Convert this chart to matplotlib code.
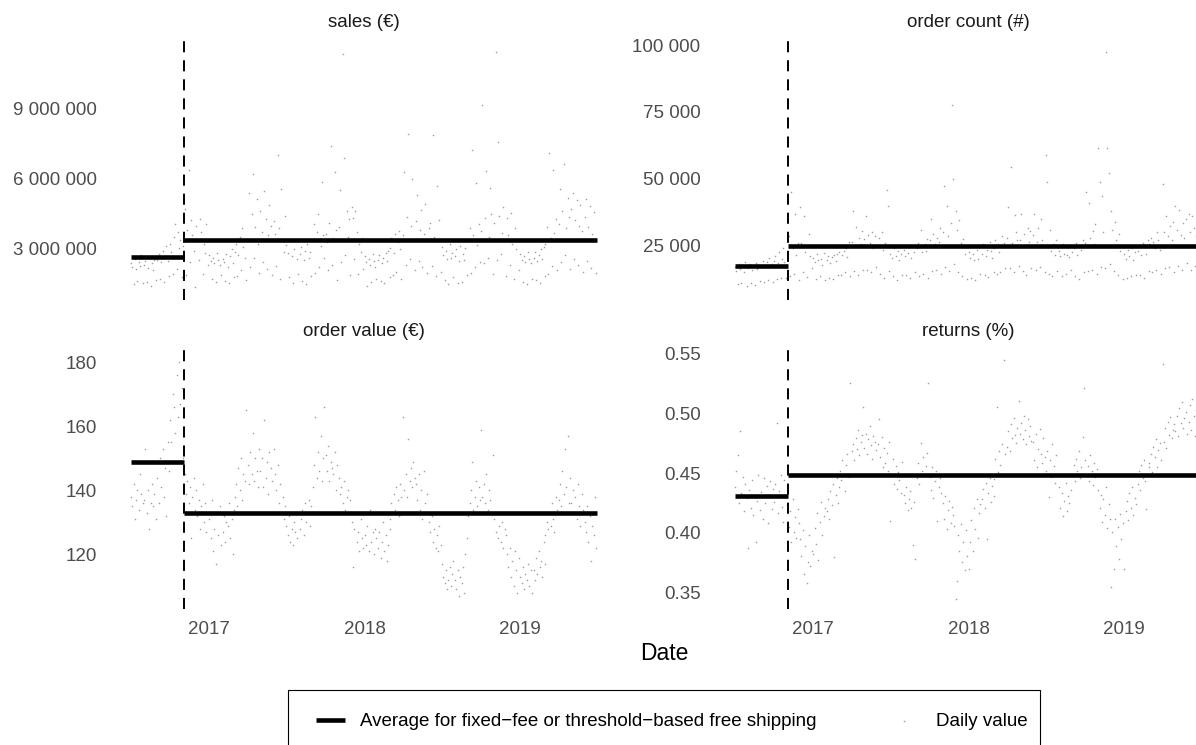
import numpy as np
import pandas as pd
import matplotlib
matplotlib.use("agg")
import matplotlib.pyplot as plt
import matplotlib.dates as mdates
from matplotlib.lines import Line2D
from matplotlib.patches import Rectangle

plt.rcParams["font.family"] = ["Liberation Sans", "DejaVu Sans"]

# one row per month (Jul 2016 .. Jun 2019), values on days 1, 4, ..., 28
sales_m = [
    2.35, 2.20, 1.45, 2.55, 2.10, 1.60, 2.40, 2.25, 2.70, 1.50,
    2.30, 2.45, 1.55, 2.15, 2.60, 1.40, 2.35, 2.05, 2.50, 1.65,
    2.50, 2.75, 1.70, 2.40, 2.90, 1.55, 2.65, 3.10, 2.45, 1.80,
    3.20, 2.85, 1.90, 3.50, 4.05, 2.10, 3.70, 3.00, 3.35, 1.75,
    3.10, 4.70, 1.85, 3.80, 6.35, 2.40, 4.20, 3.55, 2.90, 1.35,
    3.95, 3.40, 2.50, 4.25, 3.70, 1.90, 3.20, 2.80, 4.05, 2.30,
    2.70, 2.45, 1.70, 2.60, 2.35, 1.55, 2.80, 2.50, 2.30, 1.85,
    2.55, 2.40, 1.60, 2.75, 2.20, 1.50, 2.65, 2.95, 2.35, 1.75,
    2.85, 3.20, 1.80, 2.70, 3.50, 2.05, 3.85, 3.05, 2.60, 1.65,
    3.40, 5.35, 2.20, 4.45, 6.20, 2.60, 3.90, 5.10, 3.20, 1.95,
    4.60, 3.70, 2.40, 5.45, 4.25, 2.10, 3.55, 4.85, 3.95, 1.85,
    4.15, 3.60, 2.25, 7.00, 3.85, 1.70, 5.55, 3.30, 2.85, 4.40,
    3.15, 2.80, 1.75, 3.30, 2.65, 1.50, 2.95, 3.40, 2.55, 1.90,
    2.75, 3.05, 1.60, 2.50, 2.90, 1.45, 3.20, 2.60, 2.85, 1.80,
    3.35, 4.05, 1.95, 3.70, 4.45, 2.20, 3.10, 5.85, 3.55, 2.60,
    3.60, 3.25, 2.05, 4.10, 7.40, 2.30, 3.45, 6.25, 3.80, 1.65,
    3.90, 5.50, 2.40, 11.35, 6.85, 2.70, 4.60, 3.50, 4.25, 1.85,
    4.75, 4.30, 2.55, 4.60, 3.70, 1.90, 3.20, 2.85, 3.45, 2.10,
    2.65, 2.40, 1.40, 2.55, 2.30, 1.55, 2.75, 2.45, 2.20, 1.70,
    2.50, 2.70, 1.60, 2.35, 2.60, 1.50, 2.80, 2.45, 2.90, 1.75,
    3.00, 3.45, 1.85, 2.80, 3.60, 2.00, 3.25, 3.75, 2.95, 1.70,
    3.55, 6.25, 2.30, 4.35, 7.90, 2.55, 3.95, 5.95, 3.40, 2.05,
    4.15, 5.30, 2.45, 3.80, 4.65, 2.20, 3.60, 4.90, 3.35, 1.95,
    3.85, 4.10, 2.25, 7.85, 3.50, 1.80, 5.65, 3.30, 4.20, 2.00,
    3.05, 2.70, 1.65, 2.90, 2.55, 1.45, 3.20, 2.60, 2.80, 1.75,
    2.65, 2.95, 1.50, 2.45, 3.10, 1.55, 2.75, 2.50, 3.00, 1.85,
    3.30, 3.85, 1.95, 7.20, 3.55, 2.20, 5.80, 3.15, 4.05, 2.40,
    3.75, 9.15, 2.35, 4.30, 6.30, 2.60, 3.50, 5.60, 4.45, 1.90,
    4.10, 11.40, 2.50, 7.55, 4.40, 2.75, 3.65, 4.75, 3.30, 1.80,
    4.30, 3.55, 2.30, 4.50, 3.20, 1.70, 3.85, 2.95, 3.40, 2.05,
    2.75, 2.50, 1.55, 2.65, 2.40, 1.45, 2.85, 2.55, 2.35, 1.70,
    2.60, 2.85, 1.65, 2.45, 2.70, 1.50, 2.95, 2.55, 3.05, 1.80,
    3.20, 3.90, 1.90, 7.10, 3.45, 2.25, 6.35, 3.65, 4.25, 2.05,
    4.05, 5.55, 2.40, 4.60, 6.60, 2.70, 3.85, 5.15, 4.35, 2.10,
    4.70, 5.35, 2.55, 4.20, 5.05, 2.30, 3.95, 4.85, 3.75, 2.00,
    4.35, 5.10, 2.45, 3.90, 4.80, 2.15, 3.60, 4.55, 3.40, 1.95,
]

orders_k = [
    17.0, 15.5, 10.5, 18.2, 16.4, 11.2, 17.8, 15.0, 19.0, 10.0,
    16.8, 18.0, 11.0, 15.8, 17.5, 10.3, 18.6, 16.2, 17.2, 11.8,
    17.6, 19.2, 11.5, 16.9, 18.8, 12.0, 20.5, 17.4, 18.3, 11.3,
    19.4, 21.0, 12.4, 18.5, 22.8, 13.0, 20.2, 24.0, 19.0, 12.8,
    35.0, 28.5, 13.5, 45.0, 24.0, 14.5, 37.0, 21.5, 26.0, 12.0,
    39.5, 26.0, 15.0, 36.0, 22.5, 13.2, 24.8, 29.5, 21.0, 16.5,
    20.5, 18.8, 12.5, 21.8, 19.5, 13.5, 20.0, 17.8, 22.2, 12.0,
    19.8, 21.0, 13.0, 18.5, 20.6, 12.4, 21.5, 19.2, 22.0, 14.0,
    22.5, 25.0, 14.0, 21.5, 23.0, 15.0, 24.0, 20.8, 26.5, 13.5,
    26.5, 38.0, 15.5, 32.0, 24.5, 14.0, 28.0, 25.5, 30.5, 16.0,
    27.5, 36.0, 16.0, 29.0, 26.0, 15.0, 30.0, 24.0, 28.5, 17.0,
    25.0, 27.8, 14.5, 30.0, 23.5, 13.0, 26.0, 46.0, 40.0, 15.5,
    22.0, 20.5, 13.5, 24.0, 21.2, 12.2, 23.0, 19.8, 21.8, 14.2,
    23.5, 21.0, 14.0, 22.2, 24.5, 13.0, 20.5, 25.0, 22.8, 15.0,
    24.0, 26.0, 13.5, 31.0, 22.5, 14.5, 25.5, 23.0, 27.5, 12.8,
    27.0, 35.0, 15.5, 29.5, 25.5, 16.0, 28.0, 26.5, 31.5, 14.5,
    30.0, 47.5, 17.0, 40.0, 28.5, 15.5, 33.5, 77.5, 50.0, 18.0,
    38.0, 31.0, 15.0, 34.5, 26.0, 13.5, 27.5, 22.0, 24.5, 12.5,
    22.5, 20.5, 13.0, 21.8, 19.5, 12.0, 23.5, 20.2, 24.5, 14.5,
    22.0, 25.5, 14.0, 21.0, 23.5, 13.2, 26.5, 23.0, 20.5, 15.0,
    24.0, 27.0, 14.5, 25.5, 22.8, 15.0, 28.5, 24.5, 26.0, 16.5,
    28.0, 39.5, 16.5, 54.5, 26.0, 15.0, 36.5, 30.0, 27.0, 17.5,
    27.0, 37.0, 15.5, 29.5, 25.0, 14.0, 31.5, 26.5, 30.5, 16.5,
    29.0, 37.0, 16.0, 26.5, 31.5, 17.0, 35.0, 27.0, 25.0, 15.0,
    59.0, 49.0, 14.5, 31.0, 23.0, 13.5, 25.5, 21.5, 27.0, 15.5,
    23.0, 21.0, 13.8, 25.5, 22.0, 14.5, 21.5, 24.5, 20.8, 16.0,
    22.5, 24.0, 13.5, 26.0, 21.5, 12.5, 25.0, 23.5, 27.0, 15.0,
    26.0, 45.0, 15.5, 41.0, 28.0, 16.0, 30.5, 25.5, 33.0, 14.5,
    61.5, 49.0, 17.0, 43.5, 30.0, 16.5, 97.5, 61.5, 52.0, 18.0,
    38.0, 31.0, 15.5, 34.0, 27.0, 14.0, 29.5, 23.0, 25.0, 12.5,
    22.0, 20.0, 12.8, 23.5, 21.0, 13.5, 24.0, 19.5, 22.5, 14.0,
    23.0, 25.0, 14.0, 21.5, 26.0, 13.0, 24.5, 22.0, 27.0, 15.5,
    25.5, 28.0, 15.0, 26.5, 24.0, 16.0, 30.0, 27.0, 23.5, 14.5,
    48.0, 30.0, 16.5, 36.0, 28.5, 17.0, 32.5, 27.0, 34.0, 15.0,
    40.0, 31.0, 17.5, 38.5, 29.0, 16.0, 33.5, 28.0, 35.0, 18.5,
    37.0, 30.0, 16.0, 36.0, 31.5, 17.5, 28.5, 34.0, 30.5, 15.5,
]

order_value = [
    138, 135, 142, 131, 137, 140, 134, 145, 139, 136,
    137, 153, 133, 140, 128, 136, 142, 135, 139, 131,
    144, 136, 150, 141, 153, 138, 147, 132, 155, 146,
    162, 155, 170, 166, 158, 176, 163, 180, 167, 172,
    150, 145, 139, 143, 136, 141, 125, 138, 144, 134,
    140, 132, 137, 128, 135, 142, 130, 136, 127, 133,
    131, 125, 137, 121, 128, 117, 133, 126, 135, 123,
    127, 132, 124, 130, 129, 136, 125, 131, 120, 134,
    138, 142, 135, 147, 140, 150, 137, 145, 143, 165,
    148, 142, 152, 145, 158, 143, 150, 146, 141, 153,
    146, 150, 141, 162, 144, 149, 139, 152, 147, 143,
    153, 145, 140, 148, 136, 142, 133, 138, 131, 135,
    129, 126, 132, 124, 128, 123, 130, 127, 125, 133,
    128, 131, 134, 126, 136, 130, 133, 137, 129, 135,
    141, 148, 163, 144, 152, 146, 157, 143, 150, 166,
    151, 146, 154, 143, 149, 147, 145, 152, 140, 148,
    144, 139, 141, 136, 143, 134, 138, 140, 133, 137,
    130, 116, 128, 133, 124, 127, 121, 131, 125, 122,
    126, 123, 129, 121, 134, 124, 127, 120, 128, 125,
    122, 127, 119, 124, 130, 121, 126, 118, 123, 128,
    131, 136, 133, 139, 134, 141, 137, 132, 142, 138,
    163, 140, 145, 138, 156, 143, 147, 141, 149, 144,
    142, 137, 145, 134, 140, 131, 146, 136, 133, 139,
    130, 127, 132, 124, 128, 122, 126, 121, 129, 123,
    117, 113, 111, 115, 109, 112, 116, 110, 114, 118,
    112, 109, 115, 107, 113, 111, 116, 108, 120, 125,
    132, 136, 140, 149, 134, 138, 143, 135, 141, 137,
    159, 138, 142, 136, 145, 134, 140, 137, 133, 151,
    131, 127, 133, 125, 129, 124, 130, 122, 128, 126,
    120, 116, 122, 113, 118, 110, 121, 115, 108, 119,
    113, 111, 116, 109, 114, 112, 117, 110, 115, 108,
    115, 112, 119, 114, 121, 116, 118, 113, 124, 117,
    126, 130, 128, 133, 129, 136, 131, 127, 138, 134,
    137, 142, 135, 146, 139, 153, 141, 157, 136, 144,
    136, 140, 133, 138, 131, 142, 135, 129, 139, 134,
    130, 127, 135, 124, 132, 118, 129, 126, 138, 122,
]

returns_rate = [
    0.438, 0.452, 0.465, 0.425, 0.485, 0.433, 0.447, 0.418, 0.441, 0.429,
    0.387, 0.436, 0.421, 0.444, 0.415, 0.430, 0.392, 0.427, 0.448, 0.419,
    0.434, 0.412, 0.446, 0.425, 0.439, 0.408, 0.431, 0.443, 0.420, 0.437,
    0.426, 0.441, 0.492, 0.417, 0.435, 0.448, 0.422, 0.409, 0.444, 0.430,
    0.423, 0.405, 0.418, 0.392, 0.428, 0.401, 0.413, 0.396, 0.420, 0.408,
    0.395, 0.381, 0.402, 0.366, 0.389, 0.358, 0.376, 0.398, 0.372, 0.385,
    0.382, 0.404, 0.391, 0.417, 0.377, 0.409, 0.426, 0.398, 0.414, 0.421,
    0.418, 0.428, 0.412, 0.435, 0.423, 0.441, 0.380, 0.432, 0.446, 0.425,
    0.438, 0.452, 0.444, 0.461, 0.449, 0.435, 0.457, 0.466, 0.447, 0.525,
    0.468, 0.474, 0.461, 0.479, 0.470, 0.486, 0.465, 0.476, 0.482, 0.505,
    0.471, 0.483, 0.466, 0.478, 0.489, 0.473, 0.462, 0.481, 0.476, 0.469,
    0.474, 0.495, 0.463, 0.480, 0.455, 0.471, 0.458, 0.467, 0.452, 0.476,
    0.410, 0.448, 0.462, 0.441, 0.456, 0.437, 0.451, 0.444, 0.433, 0.459,
    0.432, 0.425, 0.438, 0.419, 0.428, 0.435, 0.421, 0.390, 0.426, 0.378,
    0.446, 0.458, 0.441, 0.475, 0.452, 0.463, 0.449, 0.456, 0.467, 0.525,
    0.447, 0.436, 0.455, 0.429, 0.443, 0.452, 0.410, 0.438, 0.446, 0.433,
    0.425, 0.412, 0.431, 0.403, 0.419, 0.427, 0.408, 0.422, 0.415, 0.406,
    0.345, 0.360, 0.398, 0.385, 0.407, 0.376, 0.392, 0.369, 0.402, 0.381,
    0.370, 0.392, 0.411, 0.385, 0.421, 0.403, 0.428, 0.396, 0.417, 0.424,
    0.428, 0.437, 0.421, 0.442, 0.395, 0.433, 0.446, 0.426, 0.439, 0.431,
    0.445, 0.462, 0.505, 0.451, 0.468, 0.457, 0.474, 0.448, 0.544, 0.466,
    0.472, 0.485, 0.468, 0.491, 0.479, 0.496, 0.482, 0.475, 0.488, 0.510,
    0.483, 0.492, 0.478, 0.498, 0.486, 0.474, 0.495, 0.481, 0.489, 0.477,
    0.476, 0.461, 0.483, 0.455, 0.470, 0.487, 0.466, 0.458, 0.479, 0.463,
    0.452, 0.468, 0.430, 0.461, 0.447, 0.474, 0.456, 0.442, 0.465, 0.449,
    0.438, 0.421, 0.433, 0.414, 0.427, 0.442, 0.418, 0.431, 0.425, 0.436,
    0.449, 0.457, 0.443, 0.462, 0.452, 0.468, 0.446, 0.455, 0.480, 0.521,
    0.461, 0.448, 0.456, 0.443, 0.465, 0.452, 0.440, 0.458, 0.447, 0.453,
    0.436, 0.421, 0.432, 0.409, 0.428, 0.415, 0.438, 0.404, 0.424, 0.412,
    0.355, 0.401, 0.370, 0.412, 0.389, 0.405, 0.378, 0.416, 0.395, 0.408,
    0.370, 0.418, 0.427, 0.411, 0.433, 0.421, 0.438, 0.415, 0.429, 0.424,
    0.441, 0.452, 0.436, 0.457, 0.446, 0.461, 0.443, 0.420, 0.449, 0.455,
    0.458, 0.466, 0.451, 0.472, 0.463, 0.478, 0.455, 0.469, 0.475, 0.461,
    0.541, 0.476, 0.488, 0.471, 0.493, 0.482, 0.497, 0.479, 0.486, 0.491,
    0.485, 0.498, 0.481, 0.504, 0.492, 0.509, 0.488, 0.496, 0.501, 0.483,
    0.493, 0.507, 0.486, 0.512, 0.498, 0.481, 0.503, 0.495, 0.515, 0.489,
]

titles = ["sales (€)", "order count (#)", "order value (€)", "returns (%)"]
avg_before = [2.64e6, 17500, 148.8, 0.4305]   # fixed-fee period
avg_after = [3.36e6, 24950, 132.8, 0.448]     # threshold-based free shipping
period_start, fee_change, period_end = "2016-07-01", "2016-11-02", "2019-06-30"

months = pd.date_range(period_start, periods=36, freq="MS")
dates = pd.DatetimeIndex([m + pd.Timedelta(days=d) for m in months for d in range(0, 30, 3)])
x = mdates.date2num(dates.to_pydatetime())
x0, xc, x1 = (mdates.date2num(pd.Timestamp(s).to_pydatetime()) for s in (period_start, fee_change, period_end))
span = x1 - x0

values = [np.array(sales_m) * 1e6, np.array(orders_k) * 1e3, np.array(order_value), np.array(returns_rate)]
ylims = [(0.784e6, 11.93e6), (4700, 101900), (102.9, 184.2), (0.3364, 0.5536)]
yticks = [[3e6, 6e6, 9e6], [25000, 50000, 75000, 100000], [120, 140, 160, 180],
          [0.35, 0.40, 0.45, 0.50, 0.55]]
fmts = [lambda v: f"{int(v):,}".replace(",", " "), lambda v: f"{int(v):,}".replace(",", " "),
        lambda v: f"{v:.0f}", lambda v: f"{v:.2f}"]

W, H = 1196, 745
dot_color = "#9e9e9e"
fig = plt.figure(figsize=(W / 100, H / 100), dpi=100)

def px_axes(left, top, w, h):
    return fig.add_axes([left / W, 1 - (top + h) / H, w / W, h / H])

lefts, tops = [107.7, 711.7], [40, 349]
pw, ph = 512.6, 260

for i in range(4):
    ax = px_axes(lefts[i % 2], tops[i // 2], pw, ph)
    y = values[i]
    ax.scatter(x, y, s=1.3, color=dot_color, linewidths=0, zorder=1)
    ax.axvline(xc, color="black", lw=1.4, linestyle=(0, (5.7, 4.1)), zorder=2)
    ax.plot([x0, xc], [avg_before[i]] * 2, color="black", lw=3.3, solid_capstyle="butt", zorder=3)
    ax.plot([xc, x1], [avg_after[i]] * 2, color="black", lw=3.3, solid_capstyle="butt", zorder=3)

    ax.set_xlim(x0 - 0.05 * span, x1 + 0.05 * span)
    ax.set_ylim(*ylims[i])
    ax.set_yticks(yticks[i])
    ax.set_yticklabels([fmts[i](v) for v in yticks[i]])
    ax.xaxis.set_major_locator(mdates.YearLocator())
    ax.xaxis.set_major_formatter(mdates.DateFormatter("%Y"))
    ax.tick_params(length=0, labelsize=13.5, labelcolor="#4d4d4d")
    ax.tick_params(axis="y", pad=8)
    ax.tick_params(axis="x", pad=9)
    if i < 2:
        ax.tick_params(axis="x", labelbottom=False)
    for sp in ax.spines.values():
        sp.set_visible(False)
    ax.text(0.5, 1 + 17 / ph, titles[i], transform=ax.transAxes, ha="center", va="center",
            fontsize=13.5, color="#1a1a1a")

fig.text(664 / W, 1 - 653 / H, "Date", ha="center", va="center", fontsize=16.5, color="black")

# legend box at the bottom
fig.add_artist(Rectangle((288 / W, 1 - 770 / H), (1040 - 288) / W, 80 / H,
                         transform=fig.transFigure, fill=False, ec="black", lw=0.8))
fig.add_artist(Line2D([316 / W, 345 / W], [1 - 720 / H] * 2, transform=fig.transFigure,
                      color="black", lw=3.3, solid_capstyle="butt"))
fig.text(360 / W, 1 - 721 / H, "Average for fixed\u2212fee or threshold\u2212based free shipping",
         ha="left", va="center", fontsize=13.5, color="black")
fig.add_artist(Line2D([904 / W], [1 - 721 / H], transform=fig.transFigure, marker="o",
                      markersize=1.2, markeredgewidth=0, color=dot_color, linestyle="none"))
fig.text(936 / W, 1 - 721 / H, "Daily value", ha="left", va="center", fontsize=13.5, color="black")

fig.savefig("out.png", dpi=100)
plt.close(fig)
